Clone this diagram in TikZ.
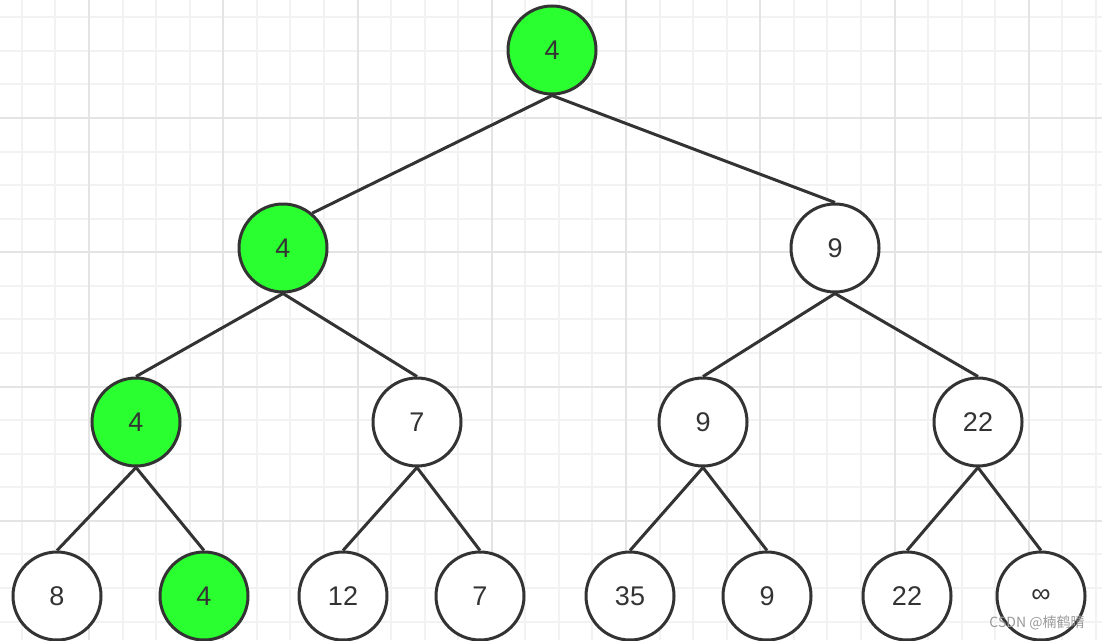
\documentclass[tikz,border=0pt]{standalone}
\usepackage{fontspec}
\setmainfont{Liberation Sans}
\newfontfamily\cjkfont{Noto Sans CJK SC}
\usepackage{xcolor}
\usepackage{tikz}

\definecolor{wingreen}{RGB}{42,255,48}
\definecolor{inkgray}{RGB}{51,51,51}
\definecolor{gridminor}{RGB}{242,242,242}
\definecolor{gridmajor}{RGB}{228,228,228}

\begin{document}
\begin{tikzpicture}[
            x=1pt, y=-1pt,
            plain/.style ={circle, draw=inkgray, line width=3pt, fill=white,
                           minimum size=88pt, inner sep=0pt, text=inkgray,
                           font=\fontsize{27}{27}\selectfont},
            winner/.style={plain, fill=wingreen},
            edge/.style  ={draw=inkgray, line width=3pt}
        ]
        \useasboundingbox (0,0) rectangle (1102,640);
        \fill[white] (0,0) rectangle (1102,640);

        % grid paper
        \begin{scope}
        \clip (0,0) rectangle (1102,640);
        \foreach \i in {0,...,32}
            \draw[gridminor, line width=2pt] ({21.8+33.57*\i},0) -- ({21.8+33.57*\i},640);
        \foreach \i in {0,...,18}
            \draw[gridminor, line width=2pt] (0,{17.3+33.57*\i}) -- (1102,{17.3+33.57*\i});
        \foreach \i in {2,6,...,30}
            \draw[gridmajor, line width=2pt] ({21.8+33.57*\i},0) -- ({21.8+33.57*\i},640);
        \foreach \i in {3,7,...,15}
            \draw[gridmajor, line width=2pt] (0,{17.3+33.57*\i}) -- (1102,{17.3+33.57*\i});
        \end{scope}

        \node[winner] (t1)  at (552,50)  {4};
        \node[winner] (t2)  at (283,248) {4};
        \node[plain]  (t3)  at (835,248) {9};
        \node[winner] (t4)  at (136,422) {4};
        \node[plain]  (t5)  at (417,422) {7};
        \node[plain]  (t6)  at (703,422) {9};
        \node[plain]  (t7)  at (978,422) {22};
        \node[plain]  (t8)  at (57,596)  {8};
        \node[winner] (t9)  at (204,596) {4};
        \node[plain]  (t10) at (343,596) {12};
        \node[plain]  (t11) at (480,596) {7};
        \node[plain]  (t12) at (630,596) {35};
        \node[plain]  (t13) at (767,596) {9};
        \node[plain]  (t14) at (907,596) {22};
        \node[plain]  (t15) at (1041,596) {∞};

        \draw[edge] (t1.south) -- (t2.50);
        \draw[edge] (t1.south) -- (t3.north);
        \draw[edge] (t2.south) -- (t4.north);
        \draw[edge] (t2.south) -- (t5.north);
        \draw[edge] (t3.south) -- (t6.north);
        \draw[edge] (t3.south) -- (t7.north);
        \draw[edge] (t4.south) -- (t8.north);
        \draw[edge] (t4.south) -- (t9.north);
        \draw[edge] (t5.south) -- (t10.north);
        \draw[edge] (t5.south) -- (t11.north);
        \draw[edge] (t6.south) -- (t12.north);
        \draw[edge] (t6.south) -- (t13.north);
        \draw[edge] (t7.south) -- (t14.north);
        \draw[edge] (t7.south) -- (t15.north);

        \node[text=black!40, font=\cjkfont\fontsize{14}{14}\selectfont] (mark) at (1037,623) {CSDN @楠鹤晴};
        \end{tikzpicture}
\end{document}
